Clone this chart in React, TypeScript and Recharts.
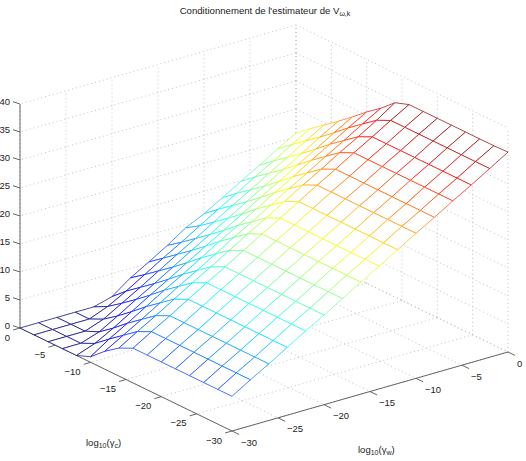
import React from "react";
import { ScatterChart, Scatter, XAxis, YAxis } from "recharts";

// grid of the surface, log10 of the two gammas
const gammaC = [0, -2, -4, -6, -8, -10, -12, -14, -16, -18, -20, -22, -24, -26, -28, -30];
const gammaW = [0, -2, -4, -6, -8, -10, -12, -14, -16, -18, -20, -22, -24, -26, -28, -30];

// conditioning values, one list per gammaW, in gammaC order
const zW0 = [20.7, 22.7, 24.6, 26.5, 28.5, 30.6, 32.5, 34.7, 35.6, 35.6, 35.6, 35.6, 35.6, 35.6, 35.6, 35.7];
const zW2 = [18.8, 20.8, 22.7, 24.6, 26.6, 28.7, 30.6, 32.5, 33.7, 33.7, 33.7, 33.7, 33.7, 33.7, 33.7, 33.7];
const zW4 = [16.8, 18.8, 20.7, 22.6, 24.6, 26.7, 28.6, 30.5, 31.7, 31.7, 31.7, 31.7, 31.7, 31.7, 31.7, 31.7];
const zW6 = [14.9, 16.9, 18.8, 20.7, 22.7, 24.8, 26.7, 28.6, 29.8, 29.8, 29.8, 29.8, 29.8, 29.8, 29.8, 29.8];
const zW8 = [12.9, 14.9, 16.8, 18.7, 20.7, 22.8, 24.7, 26.6, 27.8, 27.8, 27.8, 27.8, 27.8, 27.8, 27.8, 27.8];
const zW10 = [11, 13, 14.9, 16.8, 18.8, 20.9, 22.8, 24.7, 25.9, 25.9, 25.9, 25.9, 25.9, 25.9, 25.9, 25.9];
const zW12 = [9.4, 11, 12.9, 14.8, 16.8, 18.9, 20.8, 22.7, 23.9, 23.9, 23.9, 23.9, 23.9, 23.9, 23.9, 23.9];
const zW14 = [7.2, 9, 10.9, 12.8, 14.8, 16.9, 18.8, 20.7, 21.9, 21.9, 21.9, 21.9, 21.9, 21.9, 21.9, 21.9];
const zW16 = [5.2, 7.1, 9, 10.9, 12.9, 15, 16.9, 18.8, 20, 20, 20, 20, 20, 20, 20, 20];
const zW18 = [3.3, 5.1, 7, 8.9, 10.9, 13, 14.9, 16.8, 18, 18, 18, 18, 18, 18, 18, 18];
const zW20 = [0.9, 3.1, 5, 6.9, 8.9, 11, 12.9, 14.8, 16, 16, 16, 16, 16, 16, 16, 16];
const zW22 = [0, 1.3, 3.1, 5, 7, 9.1, 11, 12.9, 14.1, 14.1, 14.1, 14.1, 14.1, 14.1, 14.1, 14.1];
const zW24 = [0, 0, 1.2, 3, 5, 7.1, 9, 10.9, 12.1, 12.1, 12.1, 12.1, 12.1, 12.1, 12.1, 12.1];
const zW26 = [0, 0, 0, 1.1, 3, 5.1, 7, 8.9, 10.1, 10.1, 10.1, 10.1, 10.1, 10.1, 10.1, 10.1];
const zW28 = [0, 0, 0, 0, 1.2, 3.2, 5.1, 7, 8.2, 8.2, 8.2, 8.2, 8.2, 8.2, 8.2, 8.2];
const zW30 = [0, 0, 0, 0, 0, 1, 3.2, 5, 6.2, 6.2, 6.2, 6.2, 6.2, 6.2, 6.2, 6.2];
const zRows = [zW0, zW2, zW4, zW6, zW8, zW10, zW12, zW14, zW16, zW18, zW20, zW22, zW24, zW26, zW28, zW30];

const floorTicks = [0, -5, -10, -15, -20, -25, -30];
const zTicks = [0, 5, 10, 15, 20, 25, 30, 35, 40];

const WIDTH = 526;
const HEIGHT = 461;
const Z_MAX = 35.7;
const FONT = "'Liberation Sans', Arial, sans-serif";

// orthographic view of matlab's axes box, in page pixels
const project = (c: number, w: number, z: number) => ({
  sx: 296 - (212 * c) / 30 + (276 * w) / 30,
  sy: 249 - (103 * c) / 30 - (79 * w) / 30 - 5.6 * z,
});

// matlab's jet colormap
const jet = (z: number) => {
  const t = Math.min(1, Math.max(0, z / Z_MAX));
  const ramp = (v: number) => Math.round(255 * Math.min(1, Math.max(0, v)));
  const r = ramp(1.5 - Math.abs(4 * t - 3));
  const g = ramp(1.5 - Math.abs(4 * t - 2));
  const b = ramp(1.5 - Math.abs(4 * t - 1));
  return `rgb(${r},${g},${b})`;
};

const NoDot = () => null;

const segment = (from: any, to: any) => [from, to];

const gridSegments = [
  // floor
  ...floorTicks.map((t) => segment(project(t, 0, 0), project(t, -30, 0))),
  ...floorTicks.map((t) => segment(project(0, t, 0), project(-30, t, 0))),
  // wall at gammaC = 0
  ...floorTicks.map((t) => segment(project(0, t, 0), project(0, t, 40))),
  ...zTicks.map((t) => segment(project(0, 0, t), project(0, -30, t))),
  // wall at gammaW = 0
  ...floorTicks.map((t) => segment(project(t, 0, 0), project(t, 0, 40))),
  ...zTicks.map((t) => segment(project(0, 0, t), project(-30, 0, t))),
];

const axisSegments = [
  segment(project(0, -30, 0), project(-30, -30, 0)),
  segment(project(-30, -30, 0), project(-30, 0, 0)),
  segment(project(0, -30, 0), project(0, -30, 40)),
  ...floorTicks.map((t) => segment(project(t, -30, 0), project(t, -30.75, 0))),
  ...floorTicks.map((t) => segment(project(-30, t, 0), project(-31, t, 0))),
  ...zTicks.map((t) => segment(project(0, -30, t), project(0.8, -30.15, t))),
];

const minus = (t: number) => String(t).replace("-", "\u2212");

const tickLabels = [
  ...floorTicks.map((t) => {
    const p = project(t, -30, 0);
    return { sx: p.sx - 10, sy: p.sy + 9, label: minus(t), anchor: "end" };
  }),
  ...floorTicks.map((t) => {
    const p = project(-30, t, 0);
    return { sx: p.sx + 9, sy: p.sy + 11, label: minus(t), anchor: "start" };
  }),
  ...zTicks.map((t) => {
    const p = project(0, -30, t);
    return { sx: p.sx - 10, sy: p.sy - 3, label: minus(t), anchor: "end" };
  }),
];

const TickText = (props: any) => (
  <text
    x={props.cx}
    y={props.cy}
    textAnchor={props.payload.anchor}
    dominantBaseline="central"
    fontFamily={FONT}
    fontSize={9.5}
    fill="#222"
  >
    {props.payload.label}
  </text>
);

// quads far to near so the white faces hide what is behind, like mesh()
const quads: any[] = [];
gammaW.slice(0, -1).forEach((w, i) => {
  gammaC.slice(0, -1).forEach((c, j) => {
    const zs = [zRows[i][j], zRows[i][j + 1], zRows[i + 1][j + 1], zRows[i + 1][j]];
    quads.push({
      key: `${i}-${j}`,
      zs,
      corners: [
        project(c, w, zs[0]),
        project(gammaC[j + 1], w, zs[1]),
        project(gammaC[j + 1], gammaW[i + 1], zs[2]),
        project(c, gammaW[i + 1], zs[3]),
      ],
    });
  });
});

const QuadFace = ({ points, zs }: any) => (
  <g>
    <polygon points={points.map((p: any) => `${p.x},${p.y}`).join(" ")} fill="#fff" stroke="none" />
    {points.map((p: any, k: number) => {
      const next = points[(k + 1) % 4];
      return (
        <line
          key={k}
          x1={p.x}
          y1={p.y}
          x2={next.x}
          y2={next.y}
          stroke={jet((zs[k] + zs[(k + 1) % 4]) / 2)}
          strokeWidth={1}
          strokeOpacity={0.7}
        />
      );
    })}
  </g>
);

export default function App() {
  return (
    <div style={{ position: "absolute", left: 0, top: 0, width: WIDTH, height: HEIGHT, background: "#fff" }}>
      <ScatterChart width={WIDTH} height={HEIGHT} margin={{ top: 0, right: 0, bottom: 0, left: 0 }}>
        <XAxis type="number" dataKey="sx" domain={[0, WIDTH]} hide />
        <YAxis type="number" dataKey="sy" domain={[0, HEIGHT]} reversed hide />
        {gridSegments.map((seg, i) => (
          <Scatter
            key={`grid-${i}`}
            data={seg}
            shape={NoDot}
            isAnimationActive={false}
            line={{ stroke: "#b0b0b0", strokeWidth: 0.8, strokeDasharray: "1 3" }}
          />
        ))}
        {axisSegments.map((seg, i) => (
          <Scatter
            key={`axis-${i}`}
            data={seg}
            shape={NoDot}
            isAnimationActive={false}
            line={{ stroke: "#555", strokeWidth: 0.9 }}
          />
        ))}
        {quads.map((q) => (
          <Scatter
            key={q.key}
            data={q.corners}
            shape={NoDot}
            isAnimationActive={false}
            line={(p: any) => <QuadFace points={p.points} zs={q.zs} />}
          />
        ))}
        <Scatter data={tickLabels} shape={TickText} isAnimationActive={false} />
        <text x={265} y={14} textAnchor="middle" fontFamily={FONT} fontSize={9.6} fill="#222">
          Conditionnement de l'estimateur de V
          <tspan fontSize={7} dy={2}>
            {"\u03c9,k"}
          </tspan>
        </text>
        <text x={86} y={446} fontFamily={FONT} fontSize={9.5} fill="#222">
          log
          <tspan fontSize={7} dy={2}>
            10
          </tspan>
          <tspan dy={-2}>({"\u03b3"}</tspan>
          <tspan fontSize={7} dy={2}>
            c
          </tspan>
          <tspan dy={-2}>)</tspan>
        </text>
        <text x={358} y={453} fontFamily={FONT} fontSize={9.5} fill="#222">
          log
          <tspan fontSize={7} dy={2}>
            10
          </tspan>
          <tspan dy={-2}>({"\u03b3"}</tspan>
          <tspan fontSize={7} dy={2}>
            w
          </tspan>
          <tspan dy={-2}>)</tspan>
        </text>
      </ScatterChart>
    </div>
  );
}
